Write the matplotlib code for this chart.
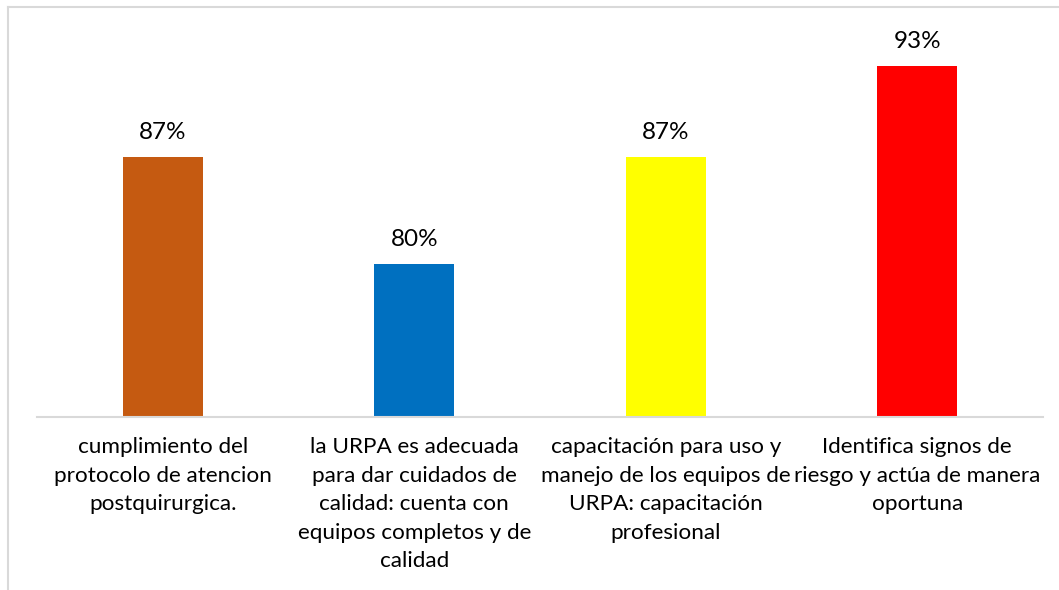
import matplotlib
matplotlib.use("Agg")
import matplotlib.pyplot as plt
from matplotlib.lines import Line2D

categories = [
    "cumplimiento del\nprotocolo de atencion\npostquirurgica.",
    "la URPA es adecuada\npara dar cuidados de\ncalidad: cuenta con\nequipos completos y de\ncalidad",
    "capacitación para uso y\nmanejo de los equipos de\nURPA: capacitación\nprofesional",
    "Identifica signos de\nriesgo y actúa de manera\noportuna",
]
values = [87, 80, 87, 93]
value_labels = ["87%", "80%", "87%", "93%"]
colors = ["#C55A11", "#0070C0", "#FFFF00", "#FF0000"]

plt.rcParams['font.family'] = ['Lato', 'DejaVu Sans']

W, H = 1059, 590
fig = plt.figure(figsize=(W / 100, H / 100), dpi=100)
fig.patch.set_facecolor("white")

# outer chart frame (left and top edges visible)
fig.add_artist(Line2D([8 / W, 8 / W], [0, 1 - 7 / H], transform=fig.transFigure,
                      color="#D9D9D9", lw=1.5))
fig.add_artist(Line2D([8 / W, 1], [1 - 7 / H, 1 - 7 / H], transform=fig.transFigure,
                      color="#D9D9D9", lw=1.5))

left, right = 37 / W, 1043 / W
bottom = 1 - 416.5 / H
top = 1 - 35.5 / H
ax = fig.add_axes([left, bottom, right - left, top - bottom])

x = list(range(len(values)))
bars = ax.bar(x, values, width=0.318, color=colors, zorder=2)

ax.set_xlim(-0.5, 3.5)
ax.set_ylim(70, 95)

for b, lab in zip(bars, value_labels):
    ax.annotate(lab, (b.get_x() + b.get_width() / 2, b.get_height()),
                xytext=(0, 13), textcoords="offset points",
                ha="center", va="baseline", fontsize=17.5, color="#000000")

ax.set_xticks(x)
ax.set_xticklabels(categories, fontsize=16.2, linespacing=1.53, color="#000000",
                   ha="center", multialignment="center")
ax.tick_params(axis="x", length=0, pad=15)
ax.set_yticks([])

for s in ["top", "right", "left"]:
    ax.spines[s].set_visible(False)
ax.spines["bottom"].set_color("#D9D9D9")
ax.spines["bottom"].set_linewidth(1.5)

fig.savefig("out.png", dpi=100, facecolor="white")
